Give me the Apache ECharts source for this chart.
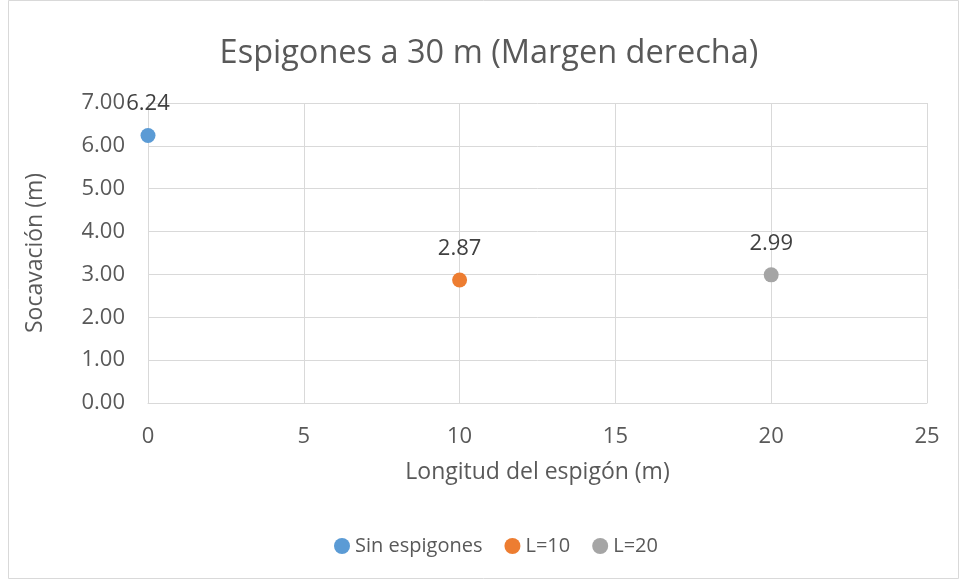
<!DOCTYPE html>
<html><head><meta charset="utf-8">
<script src="https://cdn.jsdelivr.net/npm/echarts@6/dist/echarts.min.js"></script>
<style>html,body{margin:0;padding:0;background:#fff}#c{width:961px;height:582px}</style>
</head><body><div id="c"></div>
<script>
const seriesNames = ['Sin espigones', 'L=10', 'L=20'];
const xValues = [0, 10, 20];
const yValues = [6.24, 2.87, 2.99];
const colors = ['#5B9BD5', '#ED7D31', '#A5A5A5'];
const FONT = 'Open Sans';
const chart = echarts.init(document.getElementById('c'));
chart.setOption({
  animation: false,
  backgroundColor: '#fff',
  textStyle: {fontFamily: FONT},
  graphic: [{type: 'rect', shape: {x: 8.5, y: 0.5, width: 950, height: 578}, style: {fill: null, stroke: '#d9d9d9', lineWidth: 1}, silent: true}],
  title: {text: 'Espigones a 30 m (Margen derecha)', left: 484, top: 32, textAlign: 'center',
    textStyle: {fontFamily: FONT, fontSize: 32.5, fontWeight: 'normal', color: '#595959'}},
  legend: {bottom: 21, left: 329, itemWidth: 16, itemHeight: 16, itemGap: 22, icon: 'circle',
    textStyle: {fontFamily: FONT, fontSize: 20, color: '#595959'}, data: seriesNames},
  grid: {left: 148, right: 34, top: 103, bottom: 179},
  xAxis: {type: 'value', min: 0, max: 25, interval: 5,
    name: 'Longitud del espigón (m)', nameLocation: 'middle', nameGap: 58,
    nameTextStyle: {fontFamily: FONT, fontSize: 23, color: '#595959'},
    axisLine: {show: true, lineStyle: {color: '#d9d9d9'}}, axisTick: {show: false},
    axisLabel: {fontFamily: FONT, fontSize: 22, color: '#595959', margin: 23},
    splitLine: {show: true, lineStyle: {color: '#d9d9d9'}}},
  yAxis: {type: 'value', min: 0, max: 7, interval: 1,
    name: 'Socavación (m)', nameLocation: 'middle', nameGap: 101,
    nameTextStyle: {fontFamily: FONT, fontSize: 23, color: '#595959'},
    axisLine: {show: true, lineStyle: {color: '#d9d9d9'}}, axisTick: {show: false},
    axisLabel: {fontFamily: FONT, fontSize: 22, color: '#595959', margin: 23, formatter: v => v.toFixed(2)},
    splitLine: {show: true, lineStyle: {color: '#d9d9d9'}}},
  series: seriesNames.map((n, i) => ({
    name: n, type: 'scatter', symbolSize: 15,
    itemStyle: {color: colors[i], opacity: 1},
    label: {show: true, position: 'top', distance: 13, fontFamily: FONT, fontSize: 22, color: '#404040',
      formatter: p => p.value[1].toFixed(2)},
    data: [[xValues[i], yValues[i]]]
  }))
});
</script></body></html>
